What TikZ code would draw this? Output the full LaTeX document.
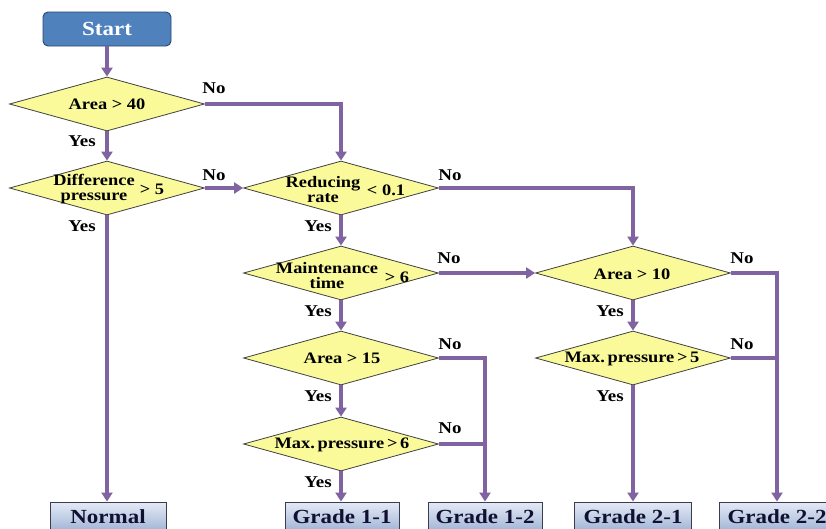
\documentclass[tikz,border=0pt]{standalone}
\usepackage{fontspec}
\setmainfont{Liberation Serif}[FakeStretch=1.15]
\usetikzlibrary{shapes.geometric,arrows.meta}
\definecolor{flow}{RGB}{128,100,162}
\definecolor{diafill}{RGB}{250,250,155}
\definecolor{startfill}{RGB}{79,129,189}
\definecolor{startdraw}{RGB}{40,70,110}
\definecolor{boxtop}{RGB}{228,235,246}
\definecolor{boxbot}{RGB}{160,178,212}
\definecolor{boxdraw}{RGB}{60,60,80}
\definecolor{boxtext}{RGB}{16,16,50}
\tikzset{
  dia/.style={diamond, draw=black!75, line width=0.8pt, fill=diafill, inner sep=0pt,
    minimum width=195pt, minimum height=54pt},
  dtext/.style={font=\bfseries\fontsize{16}{15}\selectfont, align=center, inner sep=0pt, text=black},
  yn/.style={font=\bfseries\fontsize{16.5}{16}\selectfont, inner sep=0pt, text=black},
  startbox/.style={rounded corners=5pt, draw=startdraw, line width=0.9pt, fill=startfill,
    minimum width=128pt, minimum height=34pt, text=white, font=\bfseries\fontsize{20}{20}\selectfont},
  gradebox/.style={draw=boxdraw, line width=0.9pt, top color=boxtop, bottom color=boxbot,
    minimum height=30pt, text height=13.5pt, text depth=0pt, text=boxtext,
    font=\bfseries\fontsize{20}{20}\selectfont},
  arr/.style={flow, line width=3.2pt, -{Triangle[width=11pt,length=9pt]}},
  lin/.style={flow, line width=3.2pt},
}
\begin{document}
\begin{tikzpicture}[x=1pt,y=-1pt]
\clip (0,0) rectangle (826,528);
\fill[white] (0,0) rectangle (826,528);

% start
\node[startbox] (start) at (107,29) {Start};

% diamonds
\node[dia] (d1) at (107,104) {};
\node[dia] (d2) at (107,188) {};
\node[dia] (d3) at (341,188) {};
\node[dia] (d4) at (341,273) {};
\node[dia] (d5) at (341,358) {};
\node[dia] (d6) at (341,444) {};
\node[dia] (d7) at (633,273) {};
\node[dia] (d8) at (633,358) {};

% diamond texts
\node[dtext] (t1) at (107,104) {Area > 40};
\node[dtext] (t2a) at (94,189) {Difference\\pressure};
\node[dtext] (t2b) at (152,189) {> 5};
\node[dtext] (t3a) at (323,190) {Reducing\\rate};
\node[dtext] (t3b) at (386,190) {< 0.1};
\node[dtext] (t4a) at (327,276) {Maintenance\\time};
\node[dtext] (t4b) at (397,277) {> 6};
\node[dtext] (t5) at (342,358) {Area > 15};
\node[dtext] (t6) at (342,445) {Max.\,pressure\,>\,6};
\node[dtext] (t7) at (632,274) {Area > 10};
\node[dtext] (t8) at (632,359) {Max.\,pressure\,>\,5};

% result boxes
\node[gradebox, minimum width=116pt] (normal) at (108,517) {Normal};
\node[gradebox, minimum width=114pt] (g11) at (342,517) {Grade 1-1};
\node[gradebox, minimum width=114pt] (g12) at (485,517) {Grade 1-2};
\node[gradebox, minimum width=117pt] (g21) at (633,517) {Grade 2-1};
\node[gradebox, minimum width=116pt] (g22) at (777,517) {Grade 2-2};

% connectors
\draw[arr] (start.south) -- (d1.north);
\draw[arr] (d1.east) -| (d3.north);
\draw[arr] (d1.south) -- (d2.north);
\draw[arr] (d2.east) -- (d3.west);
\draw[arr] (d2.south) -- (d2.south |- normal.north);
\draw[arr] (d3.east) -| (d7.north);
\draw[arr] (d3.south) -- (d4.north);
\draw[arr] (d4.east) -- (d7.west);
\draw[arr] (d4.south) -- (d5.north);
\draw[arr] (d5.east) -| (g12.north);
\coordinate (j6) at (d6.east -| g12.north);
\draw[lin] (d6.east) -- (j6);
\draw[arr] (d5.south) -- (d6.north);
\draw[arr] (d6.south) -- (d6.south |- g11.north);
\draw[arr] (d7.east) -| (g22.north);
\coordinate (j8) at (d8.east -| g22.north);
\draw[lin] (d8.east) -- (j8);
\draw[arr] (d7.south) -- (d8.north);
\draw[arr] (d8.south) -- (g21.north);

% labels
\node[yn] (n1) at (214,88) {No};
\node[yn] (y1) at (82,141) {Yes};
\node[yn] (n2) at (214,175) {No};
\node[yn] (y2) at (82,226) {Yes};
\node[yn] (n3) at (450,175) {No};
\node[yn] (y3) at (318,226) {Yes};
\node[yn] (n4) at (449,258) {No};
\node[yn] (y4) at (318,311) {Yes};
\node[yn] (n5) at (450,344) {No};
\node[yn] (y5) at (318,396) {Yes};
\node[yn] (n6) at (450,428) {No};
\node[yn] (y6) at (318,482) {Yes};
\node[yn] (n7) at (742,258) {No};
\node[yn] (y7) at (610,311) {Yes};
\node[yn] (n8) at (742,344) {No};
\node[yn] (y8) at (610,396) {Yes};
\end{tikzpicture}
\end{document}
